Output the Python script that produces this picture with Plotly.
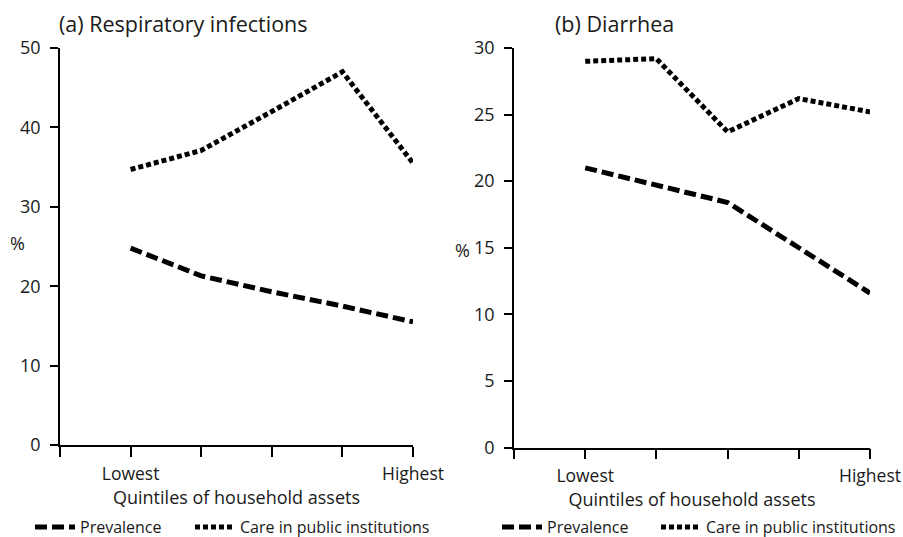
import plotly.graph_objects as go

quintile_pos = [1, 2, 3, 4, 5]
tick_vals = [0, 1, 2, 3, 4, 5]
tick_text = ["", "Lowest", "", "", "", "Highest"]

resp_prevalence = [24.8, 21.3, 19.3, 17.5, 15.5]
resp_care = [34.7, 37.1, 42.0, 47.0, 35.5]
diar_prevalence = [21.0, 19.7, 18.4, 15.0, 11.6]
diar_care = [29.0, 29.2, 23.7, 26.2, 25.2]

FONT = "Open Sans"
TXT = "#1a1a1a"
DASH = "12px,5px"
DOT = "5px,3px"
LW = 5

W, H = 903, 537


def px(x):
    return x / W


def py(y):
    return 1 - y / H


fig = go.Figure()
fig.add_trace(go.Scatter(x=quintile_pos, y=resp_prevalence, mode="lines", name="Prevalence",
                         line=dict(color="black", width=LW, dash=DASH), xaxis="x", yaxis="y", legend="legend"))
fig.add_trace(go.Scatter(x=quintile_pos, y=resp_care, mode="lines", name="Care in public institutions",
                         line=dict(color="black", width=LW, dash=DOT), xaxis="x", yaxis="y", legend="legend2"))
fig.add_trace(go.Scatter(x=quintile_pos, y=diar_prevalence, mode="lines", name="Prevalence",
                         line=dict(color="black", width=LW, dash=DASH), xaxis="x2", yaxis="y2", legend="legend3"))
fig.add_trace(go.Scatter(x=quintile_pos, y=diar_care, mode="lines", name="Care in public institutions",
                         line=dict(color="black", width=LW, dash=DOT), xaxis="x2", yaxis="y2", legend="legend4"))

xcommon = dict(range=[0, 5], tickmode="array", tickvals=tick_vals, ticktext=tick_text,
               showline=True, linecolor="black", linewidth=1.5, ticks="outside", ticklen=10,
               tickcolor="black", tickwidth=1.5, showgrid=False, zeroline=False,
               tickfont=dict(family=FONT, size=17.5, color=TXT), ticklabelstandoff=2,
               title=dict(text="Quintiles of household assets", font=dict(family=FONT, size=18, color=TXT), standoff=1))
ycommon = dict(showline=True, linecolor="black", linewidth=1.5, ticks="outside", ticklen=8,
               tickcolor="black", tickwidth=1.5, showgrid=False, zeroline=False,
               tickfont=dict(family=FONT, size=18, color=TXT), ticklabelstandoff=6)

legcommon = dict(orientation="h", font=dict(family=FONT, size=16, color=TXT), itemwidth=40,
                 bgcolor="rgba(0,0,0,0)", yanchor="middle", xanchor="left", tracegroupgap=0)

fig.update_layout(
    width=W, height=H,
    margin=dict(l=0, r=0, t=0, b=0, autoexpand=False),
    plot_bgcolor="white", paper_bgcolor="white",
    font=dict(family=FONT, color=TXT),
    xaxis=dict(domain=[px(60), px(413)], anchor="y", **xcommon),
    yaxis=dict(domain=[py(445), py(48)], anchor="x", range=[0, 50], tickvals=[0, 10, 20, 30, 40, 50], **ycommon),
    xaxis2=dict(domain=[px(514), px(870)], anchor="y2", **xcommon),
    yaxis2=dict(domain=[py(447.5), py(48)], anchor="x2", range=[0, 30], tickvals=[0, 5, 10, 15, 20, 25, 30], **ycommon),
    legend=dict(x=px(30), y=py(527), **legcommon),
    legend2=dict(x=px(190), y=py(527), **legcommon),
    legend3=dict(x=px(497), y=py(527), **legcommon),
    legend4=dict(x=px(656), y=py(527), **legcommon),
    showlegend=True,
    annotations=[
        dict(text="(a) Respiratory infections", x=px(57), y=py(23), xref="paper", yref="paper",
             xanchor="left", yanchor="middle", showarrow=False, font=dict(family=FONT, size=21.5, color=TXT)),
        dict(text="(b) Diarrhea", x=px(553), y=py(23), xref="paper", yref="paper",
             xanchor="left", yanchor="middle", showarrow=False, font=dict(family=FONT, size=21.5, color=TXT)),
        dict(text="%", x=px(17), y=py(243), xref="paper", yref="paper",
             xanchor="center", yanchor="middle", showarrow=False, font=dict(family=FONT, size=18, color=TXT)),
        dict(text="%", x=px(462), y=py(250), xref="paper", yref="paper",
             xanchor="center", yanchor="middle", showarrow=False, font=dict(family=FONT, size=18, color=TXT)),
    ],
)

fig.write_html(
    "out.html",
    config={"displayModeBar": False},
    post_script="document.body.style.margin='0';document.body.style.overflow='hidden';",
)
